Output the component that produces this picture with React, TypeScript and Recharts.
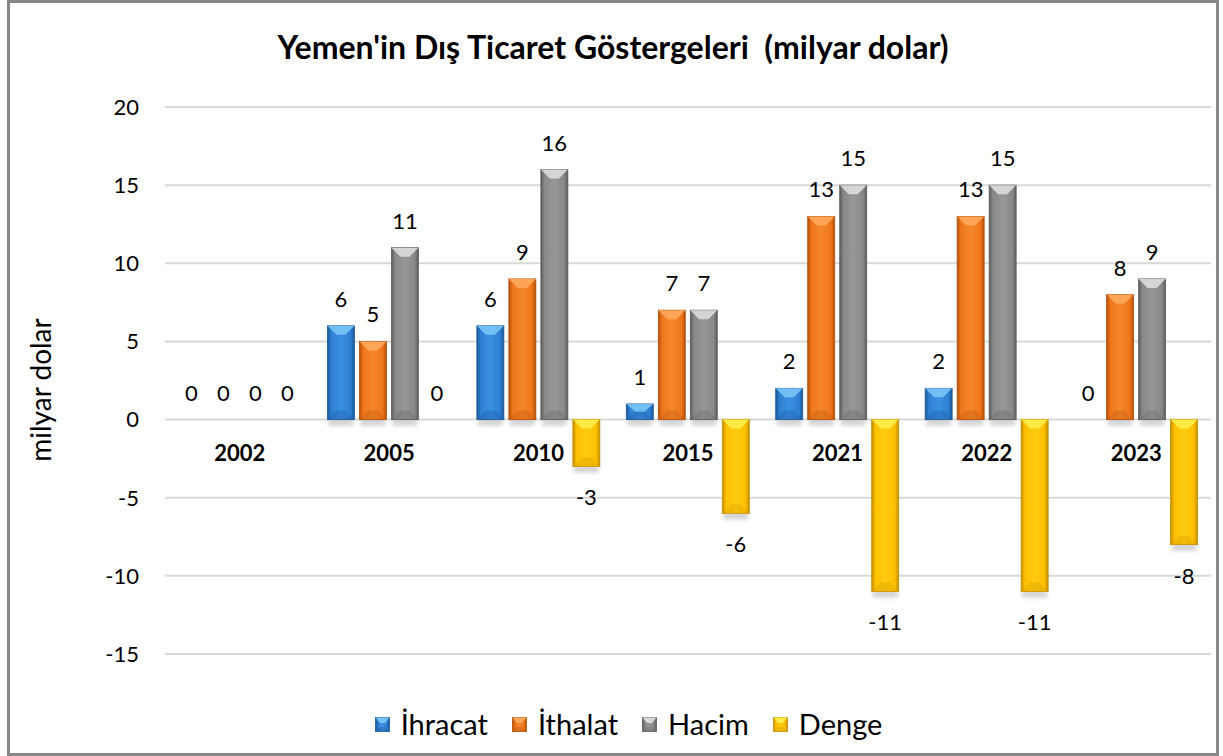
import React from 'react';
import { BarChart, Bar, XAxis, YAxis, CartesianGrid, LabelList } from 'recharts';

const categories = ['2002', '2005', '2010', '2015', '2021', '2022', '2023'];
const ihracat = [0, 6, 6, 1, 2, 2, 0];
const ithalat = [0, 5, 9, 7, 13, 13, 8];
const hacim = [0, 11, 16, 7, 15, 15, 9];
const denge = [0, 0, -3, -6, -11, -11, -8];
const seriesKeys = ['ihracat', 'ithalat', 'hacim', 'denge'];
const seriesNames = ['İhracat', 'İthalat', 'Hacim', 'Denge'];
const yTicks = [-15, -10, -5, 0, 5, 10, 15, 20];
const Y_MIN = -15;
const Y_MAX = 20;
const title = "Yemen'in Dış Ticaret Göstergeleri  (milyar dolar)";
const yAxisTitle = 'milyar dolar';

const data = categories.map((c, i) => ({
  year: c,
  ihracat: ihracat[i],
  ithalat: ithalat[i],
  hacim: hacim[i],
  denge: denge[i],
}));

const PAL = [
  { edge: '#1b5796', base: '#2d7fd3', mid: '#3b90e2', top: '#7cc8f8', bottom: '#1b5da3' },
  { edge: '#b24f0b', base: '#ef761a', mid: '#f6872c', top: '#ffac60', bottom: '#c0580e' },
  { edge: '#5c5c5c', base: '#898989', mid: '#979797', top: '#e0e0e0', bottom: '#676767' },
  { edge: '#c28f00', base: '#ffc000', mid: '#ffcb12', top: '#fff24c', bottom: '#d49e00' },
];

const FONT = 'Lato, Carlito, Calibri, sans-serif';
const W = 1206;
const H = 750;
const XH = 30;
const M = { top: 104, right: 5, bottom: 99 - XH, left: 0 };
const YW = 155;
const PLOT_H = H - M.top - M.bottom - XH;
const ZERO_Y = M.top + (PLOT_H * (Y_MAX - 0)) / (Y_MAX - Y_MIN);

const makeShape = (idx: number) => (props: any) => {
  const { x, y, width, height } = props;
  if (!height || Math.abs(height) < 0.5) return <g />;
  const top = Math.min(y, y + height);
  const h = Math.abs(height);
  const w = width;
  const b = Math.min(9, h / 2);
  const bx = Math.min(w * 0.33, 9);
  const p = PAL[idx];
  return (
    <g>
      <rect x={x + 1} y={top + h - 1} width={w - 2} height={7} fill="#000" opacity={0.18} filter="url(#barShadow)" />
      <rect x={x} y={top} width={w} height={h} fill={`url(#grad${idx})`} stroke={p.edge} strokeWidth={0.8} />
      <polygon
        points={`${x},${top} ${x + w},${top} ${x + w - bx},${top + b} ${x + bx},${top + b}`}
        fill={p.top}
        opacity={0.85}
      />
      <polygon
        points={`${x},${top + h} ${x + w},${top + h} ${x + w - bx},${top + h - b} ${x + bx},${top + h - b}`}
        fill={p.bottom}
        opacity={0.35}
      />
    </g>
  );
};

const ValueLabel = (props: any) => {
  const vb = props.viewBox || {};
  const x = props.x ?? vb.x;
  const y = props.y ?? vb.y;
  const width = props.width ?? vb.width;
  const height = props.height ?? vb.height;
  const value = props.value;
  if (x == null || y == null) return null;
  const top = Math.min(y, y + height);
  const bottom = Math.max(y, y + height);
  const cx = x + width / 2;
  const ty = value < 0 ? bottom + 39 : top - 19;
  return (
    <text x={cx} y={ty} textAnchor="middle" fontFamily={FONT} fontSize={22} fill="#000">
      {value}
    </text>
  );
};

const CategoryTick = (props: any) => {
  const { x, payload } = props;
  return (
    <text x={x} y={ZERO_Y + 41} textAnchor="middle" fontFamily={FONT} fontWeight={700} fontSize={22} fill="#000">
      {payload.value}
    </text>
  );
};

const LegendIcon = ({ idx }: { idx: number }) => {
  const p = PAL[idx];
  return (
    <svg width={15} height={15} style={{ display: 'block' }}>
      <defs>
        <linearGradient id={`lg${idx}`} x1="0" y1="0" x2="1" y2="0">
          <stop offset="0%" stopColor={p.edge} />
          <stop offset="20%" stopColor={p.base} />
          <stop offset="50%" stopColor={p.mid} />
          <stop offset="80%" stopColor={p.base} />
          <stop offset="100%" stopColor={p.edge} />
        </linearGradient>
      </defs>
      <rect x={0.5} y={0.5} width={14} height={14} fill={`url(#lg${idx})`} stroke={p.edge} strokeWidth={0.8} />
      <polygon points="0.5,0.5 14.5,0.5 10,6 5,6" fill={p.top} opacity={0.9} />
      <polygon points="0.5,14.5 14.5,14.5 10,10 5,10" fill={p.bottom} opacity={0.4} />
    </svg>
  );
};

export default function App() {
  return (
    <div
      style={{
        position: 'absolute',
        top: 0,
        left: 7,
        width: W,
        height: H,
        border: '3px solid #878787',
        background: '#fff',
        fontFamily: FONT,
      }}
    >
      <div
        style={{
          position: 'absolute',
          left: 0,
          width: W,
          top: 25,
          textAlign: 'center',
          fontWeight: 700,
          fontSize: 32,
          lineHeight: '38px',
          color: '#000',
          whiteSpace: 'pre',
        }}
      >
        {title}
      </div>
      <div
        style={{
          position: 'absolute',
          left: 30,
          top: 387,
          transform: 'translate(-50%, -50%) rotate(-90deg)',
          fontSize: 28,
          whiteSpace: 'nowrap',
          color: '#000',
        }}
      >
        {yAxisTitle}
      </div>
      <BarChart width={W} height={H} data={data} margin={M} barGap={5} barSize={27}>
        <defs>
          {PAL.map((p, i) => (
            <linearGradient key={i} id={`grad${i}`} x1="0" y1="0" x2="1" y2="0">
              <stop offset="0%" stopColor={p.edge} />
              <stop offset="14%" stopColor={p.base} />
              <stop offset="50%" stopColor={p.mid} />
              <stop offset="86%" stopColor={p.base} />
              <stop offset="100%" stopColor={p.edge} />
            </linearGradient>
          ))}
          <filter id="barShadow" x="-20%" y="-50%" width="140%" height="200%">
            <feGaussianBlur stdDeviation="2" />
          </filter>
        </defs>
        <CartesianGrid vertical={false} stroke="#d9d9d9" strokeWidth={2} />
        <XAxis
          dataKey="year"
          height={XH}
          axisLine={false}
          tickLine={false}
          tick={<CategoryTick />}
          interval={0}
        />
        <YAxis
          width={YW}
          domain={[Y_MIN, Y_MAX]}
          ticks={yTicks}
          axisLine={false}
          tickLine={false}
          tickMargin={20}
          tick={{ fontFamily: FONT, fontSize: 22, fill: '#000' }}
          interval={0}
        />
        {seriesKeys.map((k, i) => (
          <Bar key={k} dataKey={k} name={seriesNames[i]} isAnimationActive={false} shape={makeShape(i)}>
            <LabelList dataKey={k} content={<ValueLabel />} />
          </Bar>
        ))}
      </BarChart>
      <div
        style={{
          position: 'absolute',
          left: 0,
          width: W,
          top: 704,
          display: 'flex',
          justifyContent: 'center',
          alignItems: 'center',
          paddingLeft: 31,
          boxSizing: 'border-box',
          height: 34,
        }}
      >
        {seriesNames.map((n, i) => (
          <div key={n} style={{ display: 'flex', alignItems: 'center', marginRight: i < 3 ? 24 : 0 }}>
            <LegendIcon idx={i} />
            <span style={{ marginLeft: 11, fontSize: 29, lineHeight: '34px', color: '#000' }}>{n}</span>
          </div>
        ))}
      </div>
    </div>
  );
}
